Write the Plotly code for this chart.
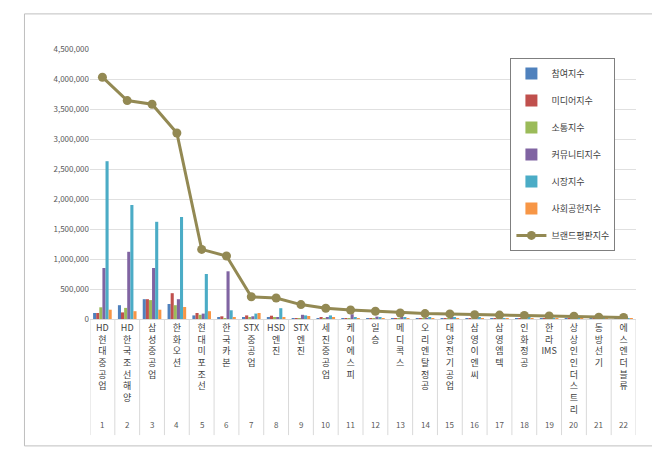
import re
import plotly.graph_objects as go

names = ["HD현대중공업", "HD한국조선해양", "삼성중공업", "한화오션", "현대미포조선", "한국카본",
         "STX중공업", "HSD엔진", "STX엔진", "세진중공업", "케이에스피", "일승", "메디콕스",
         "오리엔탈정공", "대양전기공업", "삼영이엔씨", "삼영엠텍", "인화정공", "한라IMS",
         "상상인인더스트리", "동방선기", "에스엔더블류"]
ranks = list(range(1, 23))

series_names = ["참여지수", "미디어지수", "소통지수", "커뮤니티지수", "시장지수", "사회공헌지수"]
participation = [100000, 230000, 330000, 250000, 60000, 30000, 30000, 25000, 10000, 10000, 5000,
                 5000, 5000, 5000, 5000, 5000, 5000, 5000, 5000, 5000, 3000, 3000]
media = [100000, 110000, 330000, 430000, 100000, 45000, 60000, 55000, 15000, 20000, 10000,
         8000, 10000, 8000, 8000, 6000, 6000, 6000, 5000, 5000, 4000, 3000]
communication = [195000, 185000, 315000, 230000, 70000, 15000, 30000, 30000, 15000, 10000, 5000,
                 5000, 5000, 5000, 5000, 5000, 5000, 5000, 5000, 5000, 3000, 3000]
community = [850000, 1120000, 850000, 330000, 90000, 795000, 45000, 20000, 70000, 30000, 80000,
             40000, 20000, 15000, 20000, 20000, 15000, 15000, 10000, 10000, 8000, 5000]
market = [2630000, 1900000, 1620000, 1700000, 750000, 145000, 90000, 180000, 60000, 60000, 20000,
          20000, 30000, 30000, 25000, 20000, 15000, 20000, 15000, 10000, 8000, 8000]
social = [155000, 130000, 155000, 200000, 130000, 20000, 100000, 25000, 50000, 20000, 10000,
          10000, 10000, 10000, 10000, 8000, 8000, 8000, 6000, 5000, 4000, 4000]
brand = [4030000, 3640000, 3580000, 3100000, 1160000, 1050000, 370000, 350000, 240000, 180000,
         150000, 130000, 100000, 90000, 85000, 70000, 65000, 60000, 50000, 45000, 30000, 25000]

colors = ["#4F81BD", "#C0504D", "#9BBB59", "#8064A2", "#4BACC6", "#F79646"]
line_color = "#938953"


def stack(name):
    parts = re.findall(r"[A-Za-z]+|.", name)
    return "<br>".join(parts)


fig = go.Figure()
for i, (sname, vals, c) in enumerate(zip(series_names, [participation, media, communication, community, market, social], colors)):
    fig.add_trace(go.Bar(x=ranks, y=vals, name=sname, legendgroup=str(i),
                         marker=dict(color=c, line=dict(width=0))))
fig.add_trace(go.Scatter(x=ranks, y=brand, name="브랜드평판지수", mode="lines+markers", legendgroup="line",
                         line=dict(color=line_color, width=3),
                         marker=dict(color=line_color, size=9)))

# category separators below the axis
for i in range(23):
    fig.add_shape(type="line", xref="x", yref="paper", x0=i + 0.5, x1=i + 0.5, y0=0, y1=-0.43,
                  line=dict(color="#d9d9d9", width=1))
for r in ranks:
    fig.add_annotation(x=r, y=-0.39, xref="x", yref="paper", text=str(r), showarrow=False,
                       font=dict(size=8, color="#595959"), yanchor="middle")

fig.add_shape(type="rect", xref="paper", yref="paper", x0=-0.12, x1=1.05, y0=-0.47, y1=1.13,
              line=dict(color="#bfbfbf", width=1))

fig.update_layout(
    width=660, height=456,
    margin=dict(l=82, r=32, t=41, b=145, autoexpand=False),
    plot_bgcolor="white", paper_bgcolor="white",
    font=dict(family="Noto Sans CJK KR", color="#595959"),
    barmode="group", bargap=0.25, bargroupgap=0,
    showlegend=True,
    legend=dict(x=0.77, y=0.967, xanchor="left", yanchor="top", bgcolor="white",
                bordercolor="#7f7f7f", borderwidth=1, font=dict(size=9, color="#404040"),
                tracegroupgap=8, itemwidth=30),
    xaxis=dict(tickmode="array", tickvals=ranks, ticktext=[stack(n) for n in names],
               tickangle=0, tickfont=dict(size=9, color="#404040"), range=[0.5, 22.5],
               showline=True, linecolor="#d9d9d9", ticks="", automargin=False),
    yaxis=dict(range=[0, 4500000], dtick=500000, tickformat=",d", gridcolor="#e0e0e0",
               tickfont=dict(size=8, color="#595959"), zeroline=False, showline=False,
               automargin=False),
)

fig.write_html("out.html")
